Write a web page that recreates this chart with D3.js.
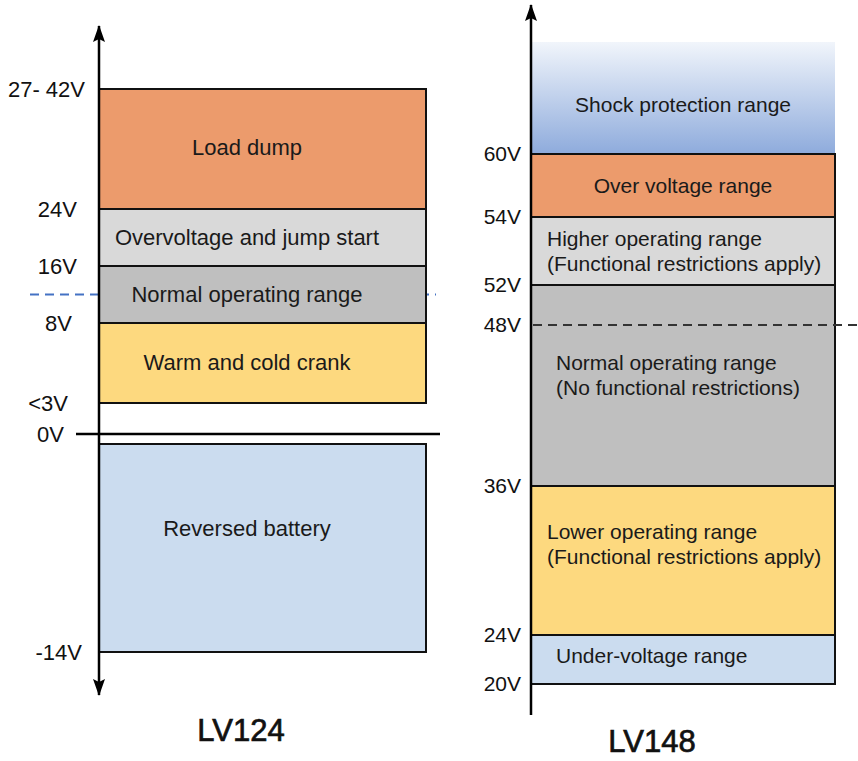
<!DOCTYPE html>
<html>
<head>
<meta charset="utf-8">
<script src="https://cdn.jsdelivr.net/npm/d3@7"></script>
<style>
  body { margin: 0; background: #fff; }
  svg { display: block; font-family: "Liberation Sans", Arial, sans-serif; }
</style>
</head>
<body>
<div id="chart"></div>
<script>
(function(d3) {
  'use strict';

  // LV124 (12V system)
  var lv124Ticks = ['27- 42V', '24V', '16V', '8V', '<3V', '0V', '-14V'];
  var lv124TickValues = [42, 24, 16, 8, 3, 0, -14];
  var lv124Names = ['Load dump', 'Overvoltage and jump start', 'Normal operating range',
    'Warm and cold crank', 'Reversed battery'];
  var lv124From = [24, 16, 8, 3, -14];
  var lv124To = [42, 24, 16, 8, 0];
  var lv124Nominal = 12;

  // LV148 (48V system)
  var lv148Ticks = ['60V', '54V', '52V', '48V', '36V', '24V', '20V'];
  var lv148TickValues = [60, 54, 52, 48, 36, 24, 20];
  var lv148Names = ['Shock protection range', 'Over voltage range',
    'Higher operating range\n(Functional restrictions apply)',
    'Normal operating range\n(No functional restrictions)',
    'Lower operating range\n(Functional restrictions apply)',
    'Under-voltage range'];
  var lv148From = [60, 54, 52, 36, 24, 20];
  var lv148To = [75, 60, 54, 52, 36, 24];
  var lv148Nominal = 48;

  var width = 858;
  var height = 761;

  var svg = d3.select('#chart')
    .append('svg')
    .attr('width', width)
    .attr('height', height);

  var defs = svg.append('defs');
  var grad = defs.append('linearGradient')
    .attr('id', 'shock')
    .attr('x1', 0).attr('y1', 0).attr('x2', 0).attr('y2', 1);
  grad.append('stop').attr('offset', '0%').attr('stop-color', '#f1f5fb');
  grad.append('stop').attr('offset', '100%').attr('stop-color', '#8eabdc');

  // arrow head drawn pointing along +x, the marker turns it
  defs.append('marker')
    .attr('id', 'arrow')
    .attr('viewBox', '0 0 17 12')
    .attr('refX', 16).attr('refY', 6)
    .attr('markerWidth', 17).attr('markerHeight', 12)
    .attr('markerUnits', 'userSpaceOnUse')
    .attr('orient', 'auto-start-reverse')
    .append('path')
    .attr('d', 'M17,6 L0,0 L3,6 L0,12 Z')
    .attr('fill', '#000');

  // scales are piecewise: the drawing is not to scale
  var yL = d3.scaleLinear()
    .domain(lv124TickValues)
    .range([89, 209, 266, 323, 403, 434, 652]);
  var yR = d3.scaleLinear()
    .domain([75].concat(lv148TickValues))
    .range([42, 154, 217, 285, 325, 486, 635, 684]);

  var left = { x0: 99, x1: 426 };
  var right = { x0: 531, x1: 835 };

  var lv124Fill = ['#ec9b6c', '#d9d9d9', '#bfbfbf', '#fdd97f', '#cbdcef'];
  var lv124Top = [0, 0, 0, 0, 10];
  var lv124Dy = [-2, 0, 0, -1, -20];
  var lv124TickX = [85, 77, 77, 72, 68, 64, 82];

  var lv148Fill = ['url(#shock)', '#ec9b6c', '#d9d9d9', '#bfbfbf', '#fdd97f', '#cbdcef'];
  var lv148Anchor = ['middle', 'middle', 'start', 'start', 'start', 'start'];
  var lv148X = [683, 683, 547, 556, 547, 556];
  var lv148Dy = [7, 0, 0, -10, -16, -4];

  // nominal dashed line, under the boxes
  svg.append('line')
    .attr('x1', 30).attr('x2', 436)
    .attr('y1', yL(lv124Nominal)).attr('y2', yL(lv124Nominal))
    .attr('stroke', '#4472c4').attr('stroke-width', 2)
    .attr('stroke-dasharray', '9,6');

  // LV124 boxes
  var gl = svg.append('g');
  gl.selectAll('rect')
    .data(lv124Names)
    .enter()
    .append('rect')
    .attr('x', left.x0)
    .attr('y', function(d, i) { return yL(lv124To[i]) + lv124Top[i]; })
    .attr('width', left.x1 - left.x0)
    .attr('height', function(d, i) { return yL(lv124From[i]) - yL(lv124To[i]) - lv124Top[i]; })
    .attr('fill', function(d, i) { return lv124Fill[i]; })
    .attr('stroke', '#111')
    .attr('stroke-width', 2);

  gl.selectAll('text.name')
    .data(lv124Names)
    .enter()
    .append('text')
    .attr('class', 'name')
    .attr('x', 247)
    .attr('y', function(d, i) {
      return (yL(lv124To[i]) + lv124Top[i] + yL(lv124From[i])) / 2 + lv124Dy[i];
    })
    .attr('dy', '0.35em')
    .attr('text-anchor', 'middle')
    .attr('font-size', 22)
    .attr('fill', '#1a1a1a')
    .text(function(d) { return d; });

  // zero line
  svg.append('line')
    .attr('x1', 76).attr('x2', 440)
    .attr('y1', yL(0)).attr('y2', yL(0))
    .attr('stroke', '#000').attr('stroke-width', 2.5);

  // LV124 axis
  svg.append('line')
    .attr('x1', left.x0).attr('x2', left.x0)
    .attr('y1', 26).attr('y2', 695)
    .attr('stroke', '#000').attr('stroke-width', 2.5)
    .attr('marker-start', 'url(#arrow)')
    .attr('marker-end', 'url(#arrow)');

  svg.selectAll('text.tl')
    .data(lv124Ticks)
    .enter()
    .append('text')
    .attr('class', 'tl')
    .attr('x', function(d, i) { return lv124TickX[i]; })
    .attr('y', function(d, i) { return yL(lv124TickValues[i]); })
    .attr('dy', '0.35em')
    .attr('text-anchor', 'end')
    .attr('font-size', 22)
    .attr('fill', '#111')
    .text(function(d) { return d; });

  // LV148 boxes
  var gr = svg.append('g');
  gr.selectAll('rect')
    .data(lv148Names)
    .enter()
    .append('rect')
    .attr('x', right.x0)
    .attr('y', function(d, i) { return yR(lv148To[i]); })
    .attr('width', right.x1 - right.x0)
    .attr('height', function(d, i) { return yR(lv148From[i]) - yR(lv148To[i]); })
    .attr('fill', function(d, i) { return lv148Fill[i]; })
    .attr('stroke', function(d, i) { return i === 0 ? 'none' : '#111'; })
    .attr('stroke-width', 2);

  svg.append('line')
    .attr('x1', right.x0 + 2).attr('x2', width)
    .attr('y1', yR(lv148Nominal)).attr('y2', yR(lv148Nominal))
    .attr('stroke', '#333').attr('stroke-width', 2)
    .attr('stroke-dasharray', '9,6');

  gr.selectAll('text.name')
    .data(lv148Names)
    .enter()
    .append('text')
    .attr('class', 'name')
    .attr('text-anchor', function(d, i) { return lv148Anchor[i]; })
    .attr('font-size', 21)
    .attr('fill', '#1a1a1a')
    .each(function(d, i) {
      var lines = d.split('\n');
      var cy = (yR(lv148To[i]) + yR(lv148From[i])) / 2 + lv148Dy[i];
      var lh = 25;
      var t = d3.select(this);
      lines.forEach(function(s, j) {
        t.append('tspan')
          .attr('x', lv148X[i])
          .attr('y', cy - (lines.length - 1) * lh / 2 + j * lh)
          .attr('dy', '0.35em')
          .text(s);
      });
    });

  // LV148 axis
  svg.append('line')
    .attr('x1', right.x0).attr('x2', right.x0)
    .attr('y1', 5).attr('y2', 715)
    .attr('stroke', '#000').attr('stroke-width', 2.5)
    .attr('marker-start', 'url(#arrow)');

  svg.selectAll('text.tr')
    .data(lv148Ticks)
    .enter()
    .append('text')
    .attr('class', 'tr')
    .attr('x', 521)
    .attr('y', function(d, i) { return yR(lv148TickValues[i]); })
    .attr('dy', '0.35em')
    .attr('text-anchor', 'end')
    .attr('font-size', 21)
    .attr('fill', '#111')
    .text(function(d) { return d; });

  // titles
  svg.selectAll('text.title')
    .data(['LV124', 'LV148'])
    .enter()
    .append('text')
    .attr('class', 'title')
    .attr('x', function(d, i) { return i === 0 ? 241 : 652; })
    .attr('y', function(d, i) { return i === 0 ? 741 : 752; })
    .attr('text-anchor', 'middle')
    .attr('font-size', 31)
    .attr('fill', '#111')
    .attr('stroke', '#111')
    .attr('stroke-width', 0.7)
    .text(function(d) { return d; });

})(window.d3);
</script>
</body>
</html>
